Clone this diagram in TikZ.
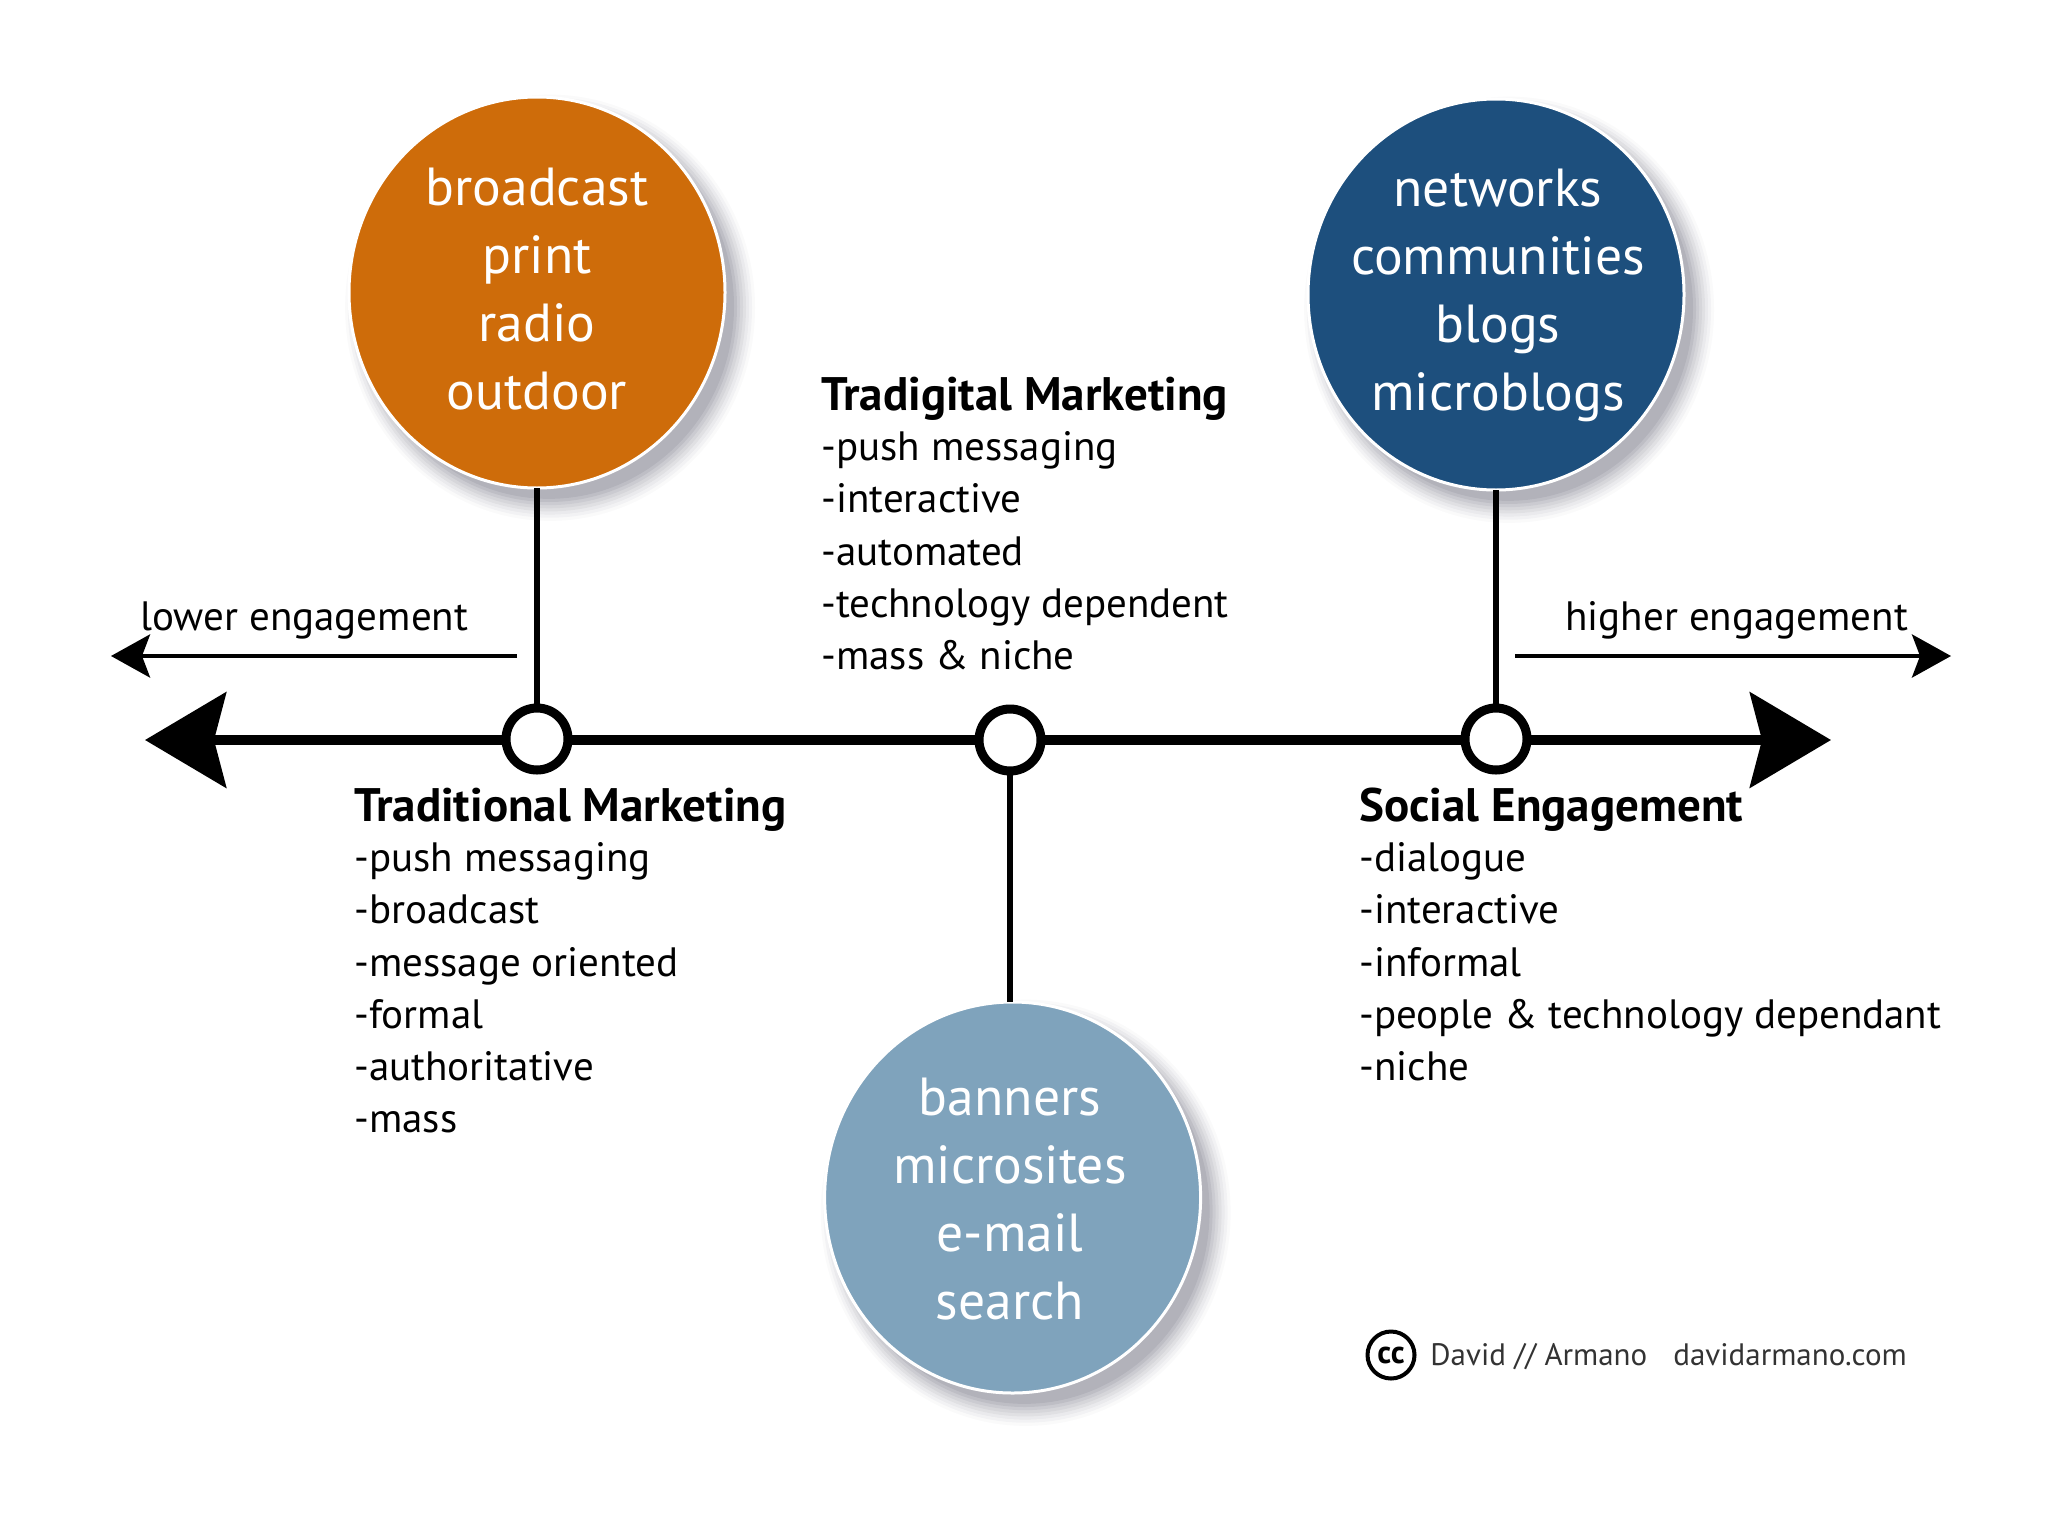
\documentclass[tikz,border=0pt]{standalone}
\usepackage{fontspec}
\setmainfont{PT Sans}
\usetikzlibrary{shapes.geometric,positioning,shadows,arrows.meta}
\definecolor{oldorange}{HTML}{CE6C0A}
\definecolor{socialblue}{HTML}{1D4F7D}
\definecolor{tradiblue}{HTML}{7FA3BC}
\definecolor{shadowgray}{HTML}{1A1A33}
\newcommand{\listtitle}[1]{{\fontsize{23.5}{26.1}\selectfont\bfseries #1}}
\tikzset{softshadow/.style={
	general shadow={fill=shadowgray,opacity=.025,shadow xshift=6pt,shadow yshift=-7pt,shadow scale=1.09},
	general shadow={fill=shadowgray,opacity=.03,shadow xshift=6pt,shadow yshift=-7pt,shadow scale=1.075},
	general shadow={fill=shadowgray,opacity=.04,shadow xshift=6pt,shadow yshift=-7pt,shadow scale=1.06},
	general shadow={fill=shadowgray,opacity=.05,shadow xshift=6pt,shadow yshift=-7pt,shadow scale=1.045},
	general shadow={fill=shadowgray,opacity=.05,shadow xshift=6pt,shadow yshift=-7pt,shadow scale=1.03},
	general shadow={fill=shadowgray,opacity=.06,shadow xshift=6pt,shadow yshift=-7pt,shadow scale=1.015},
	general shadow={fill=shadowgray,opacity=.07,shadow xshift=6pt,shadow yshift=-7pt,shadow scale=1.0},
	general shadow={fill=shadowgray,opacity=.08,shadow xshift=6pt,shadow yshift=-7pt,shadow scale=.985}}}
\tikzstyle{bigcircle} = [ellipse,draw=white,line width=1.5pt,minimum width=188pt,minimum height=195.5pt,inner sep=0pt,outer sep=0pt,softshadow]
\tikzstyle{bigtext} = [text=white,align=center,anchor=north,inner sep=0pt,font=\fontsize{26.8}{34}\selectfont]
\tikzstyle{hub} = [circle,draw=black,fill=white,line width=4.5pt,minimum size=31pt,inner sep=0pt,outer sep=0pt]
\tikzstyle{listtext} = [align=left,anchor=north west,inner sep=0pt,font=\fontsize{20.5}{26.1}\selectfont]
\tikzstyle{sidetext} = [inner sep=0pt,anchor=base west,font=\fontsize{20.5}{26.1}\selectfont]
\tikzstyle{credittext} = [inner sep=0pt,anchor=base west,text=black!80,font=\fontsize{15.5}{18}\selectfont]
\tikzstyle{axis} = [line width=5pt,{Stealth[length=40.5pt,width=47.5pt,inset=6pt]}-{Stealth[length=40.5pt,width=47.5pt,inset=6pt]}]
\tikzstyle{stem} = [line width=3.3pt]
\tikzstyle{thinarrow} = [line width=2.2pt,-{Stealth[length=19.5pt,width=21.5pt,inset=4pt]}]
\begin{document}
\begin{tikzpicture}[x=0.5pt,y=-0.5pt]
	\useasboundingbox (0,0) rectangle (2048,1536);

	% AXIS
	\coordinate (axisleft) at (145,740);
	\coordinate (axisright) at (1831,740);
	\draw[axis] (axisleft) -- (axisright);

	\node[hub] (hubold) at (537,739) {};
	\node[hub] (hubtradi) at (1010,740) {};
	\node[hub] (hubsocial) at (1496,739) {};

	% CIRCLES
	\node[bigcircle,fill=oldorange,above=110pt of hubold] (oldcircle) {};
	\node[bigcircle,fill=socialblue,above=109pt of hubsocial] (socialcircle) {};
	\node[bigcircle,fill=tradiblue,below=115.5pt of hubtradi,xshift=1.3pt] (tradicircle) {};

	\node[bigtext] (oldtext) at ([yshift=62.5pt]oldcircle.center) {broadcast\\print\\radio\\outdoor};
	\node[bigtext] (socialtext) at ([yshift=63pt,xshift=1pt]socialcircle.center) {networks\\communities\\blogs\\microblogs};
	\node[bigtext] (traditext) at ([yshift=60pt,xshift=-1.3pt]tradicircle.center) {banners\\microsites\\e-mail\\search};

	\draw[stem] (oldcircle.south) -- (hubold.north);
	\draw[stem] (socialcircle.south) -- (hubsocial.north);
	\draw[stem] (hubtradi.south) -- (hubtradi.south |- tradicircle.north);

	% ENGAGEMENT ARROWS
	\coordinate (lowerstart) at (517,656);
	\coordinate (lowerend) at (111,656);
	\coordinate (higherstart) at (1515,656);
	\coordinate (higherend) at (1951,656);
	\draw[thinarrow] (lowerstart) -- (lowerend);
	\draw[thinarrow] (higherstart) -- (higherend);
	\node[sidetext] (lowerlabel) at (140,630) {lower engagement};
	\node[sidetext] (higherlabel) at (1565,630) {higher engagement};

	% LISTS
	\node[listtext] (traditional) at (354,788) {\listtitle{Traditional Marketing}\\[-1.2pt]-push messaging\\-broadcast\\-message oriented\\-formal\\-authoritative\\-mass};
	\node[listtext] (tradigital) at (821,377) {\listtitle{Tradigital Marketing}\\[-1.2pt]-push messaging\\-interactive\\-automated\\-technology dependent\\-mass \& niche};
	\node[listtext] (social) at (1359,788) {\listtitle{Social Engagement}\\[-1.2pt]-dialogue\\-interactive\\-informal\\-people \& technology dependant\\-niche};

	% CREDIT
	\node[circle,draw=black,line width=2pt,minimum size=23.5pt,inner sep=0pt,font=\fontsize{16}{16}\selectfont\bfseries] (cclogo) at (1391,1355) {cc};
	\node[credittext] (credit) at (1430,1365) {David // Armano};
	\node[credittext] (creditsite) at (1673,1365) {davidarmano.com};
\end{tikzpicture}
\end{document}
